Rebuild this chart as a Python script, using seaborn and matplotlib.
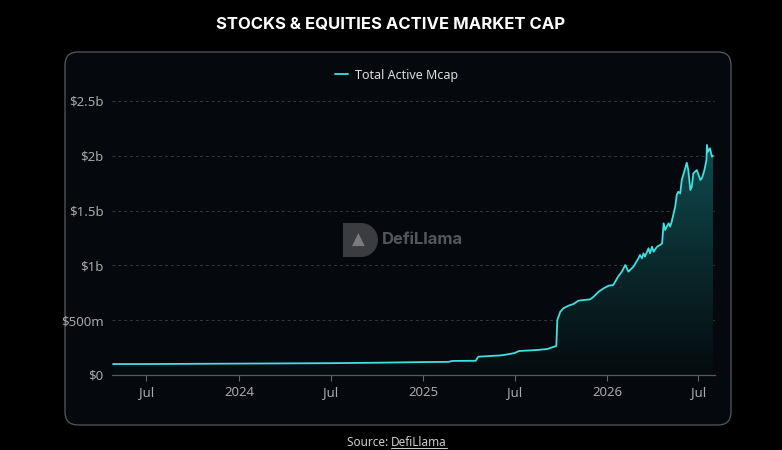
import numpy as np
import pandas as pd
import matplotlib
matplotlib.use("Agg")
import matplotlib.pyplot as plt
import matplotlib.dates as mdates
from matplotlib.patches import FancyBboxPatch, Circle, Rectangle
from matplotlib.transforms import IdentityTransform
from matplotlib.lines import Line2D
from matplotlib.colors import LinearSegmentedColormap
import seaborn as sns

# data (value in $ millions)
dates = ['2023-04-26', '2023-07-01', '2023-10-01', '2024-01-01', '2024-07-01', '2024-10-01',
         '2025-01-01', '2025-02-20', '2025-02-27', '2025-04-15', '2025-04-20', '2025-06-01',
         '2025-06-09', '2025-07-01', '2025-07-10', '2025-08-15', '2025-09-04', '2025-09-22',
         '2025-09-24', '2025-09-30', '2025-10-06', '2025-10-16', '2025-10-26', '2025-11-05',
         '2025-11-15', '2025-11-28', '2025-12-05', '2025-12-15', '2025-12-25', '2026-01-04',
         '2026-01-13', '2026-01-23', '2026-01-30', '2026-02-06', '2026-02-12', '2026-02-22',
         '2026-03-04', '2026-03-07', '2026-03-11', '2026-03-14', '2026-03-17', '2026-03-24',
         '2026-03-27', '2026-03-31', '2026-04-03', '2026-04-10', '2026-04-16', '2026-04-20',
         '2026-04-23', '2026-04-26', '2026-04-29', '2026-05-03', '2026-05-06', '2026-05-09',
         '2026-05-16', '2026-05-19', '2026-05-22', '2026-05-26', '2026-05-29', '2026-06-01',
         '2026-06-08', '2026-06-11', '2026-06-15', '2026-06-18', '2026-06-21', '2026-06-28',
         '2026-07-05', '2026-07-08', '2026-07-13', '2026-07-17', '2026-07-18', '2026-07-20',
         '2026-07-24', '2026-07-28', '2026-07-30']
mcap = [100, 100, 102, 104, 108, 112,
        118, 120, 128, 130, 167, 178,
        182, 200, 219, 228, 237, 265,
        502, 578, 608, 632, 648, 678,
        684, 690, 714, 760, 791, 815,
        821, 900, 943, 1004, 943, 988,
        1065, 1095, 1065, 1110, 1080, 1156,
        1110, 1171, 1125, 1171, 1186, 1201,
        1384, 1323, 1353, 1384, 1353, 1399,
        1535, 1642, 1672, 1657, 1779, 1825,
        1937, 1870, 1688, 1718, 1840, 1870,
        1779, 1795, 1870, 1962, 2099, 2037,
        2068, 1992, 2000]

ytick_vals = [0, 500, 1000, 1500, 2000, 2500]
ytick_labels = ['$0', '$500m', '$1b', '$1.5b', '$2b', '$2.5b']
xtick_dates = ['2023-07-01', '2024-01-01', '2024-07-01', '2025-01-01', '2025-07-01', '2026-01-01', '2026-07-01']
xtick_labels = ['Jul', '2024', 'Jul', '2025', 'Jul', '2026', 'Jul']

df = pd.DataFrame({'date': pd.to_datetime(dates), 'mcap': np.array(mcap) * 1e6})

sns.set_theme(style="dark")
plt.rcParams['font.family'] = ['Noto Sans', 'DejaVu Sans']

line_col = '#3fe0e0'
grey = '#a9a9a9'

W, H = 782, 450
fig = plt.figure(figsize=(W / 100, H / 100), dpi=100)
fig.patch.set_facecolor('black')

# rounded panel behind everything
panel = FancyBboxPatch((65, H - 425), 666, 373, boxstyle="round,pad=0,rounding_size=13",
                       transform=IdentityTransform(), facecolor='#05080c', edgecolor='#55585c',
                       linewidth=0.9, zorder=-2)
fig.patches.append(panel)

# watermark
fig.patches.append(Circle((361, H - 240), 17, transform=IdentityTransform(), facecolor='#3b3c3f',
                          edgecolor='none', zorder=-1))
fig.patches.append(Rectangle((343, H - 257), 18, 34, transform=IdentityTransform(), facecolor='#3b3c3f',
                             edgecolor='none', zorder=-1))
fig.text(358 / W, (H - 241) / H, '\u25b2', color='#7a7b7e', fontsize=12, ha='center', va='center', zorder=-1)
fig.text(382 / W, (H - 240) / H, 'DefiLlama', color='#55565a', fontsize=12, fontweight='bold',
         ha='left', va='center', family=['Inter', 'DejaVu Sans'], zorder=-1)

ax = fig.add_axes([112 / W, (H - 375) / H, (715 - 112) / W, (375 - 101) / H])
ax.set_facecolor('none')
ax.set_zorder(1)

sns.lineplot(data=df, x='date', y='mcap', ax=ax, color=line_col, linewidth=1.3,
             label='Total Active Mcap', zorder=3)

# gradient fill under the line
x0 = mdates.date2num(pd.Timestamp('2023-04-24'))
x1 = mdates.date2num(pd.Timestamp('2026-08-03'))
poly = ax.fill_between(df['date'], df['mcap'], 0, color='none', linewidth=0)
grad = np.linspace(0, 1, 256).reshape(-1, 1)
cmap = LinearSegmentedColormap.from_list('g', ['#050b0e', '#0a2a2d', '#104c4f'])
im = ax.imshow(grad, extent=[x0, x1, 0, 2.1e9], origin='lower', aspect='auto', cmap=cmap, zorder=1)
im.set_clip_path(poly.get_paths()[0], transform=ax.transData)

ax.set_xlim(x0, x1)
ax.set_ylim(0, 2.5e9)
ax.set_yticks([v * 1e6 for v in ytick_vals])
ax.set_yticklabels(ytick_labels)
ax.set_xticks(pd.to_datetime(xtick_dates))
ax.set_xticklabels(xtick_labels)
for lab in ax.get_xticklabels():
    if lab.get_text() != 'Jul':
        lab.set_fontweight('bold')
ax.tick_params(axis='y', length=0, labelsize=9.5, labelcolor=grey, pad=6)
ax.tick_params(axis='x', length=4, width=0.8, color='#666', labelsize=9.5, labelcolor=grey, pad=4, bottom=True)
ax.set_xlabel('')
ax.set_ylabel('')
ax.grid(False)
for v in ytick_vals[1:]:
    ax.axhline(v * 1e6, color='#34373c', lw=0.7, ls=(0, (3, 3)), zorder=0)
for s in ['top', 'right', 'left']:
    ax.spines[s].set_visible(False)
ax.spines['bottom'].set_color('#55585c')
ax.spines['bottom'].set_linewidth(0.9)

leg = ax.legend(loc='center', bbox_to_anchor=(397 / W, (H - 75) / H), bbox_transform=fig.transFigure,
                frameon=False, fontsize=9, handlelength=1.0, handletextpad=0.6, labelcolor='#dddddd')

fig.text(W / 2 / W, (H - 25) / H, 'STOCKS & EQUITIES ACTIVE MARKET CAP', color='white',
         fontsize=12, fontweight='bold', ha='center', va='center', family=['Inter', 'DejaVu Sans'])

t1 = fig.text(391 / W, (H - 442) / H, 'Source: ', color='#cccccc', fontsize=8.5, ha='right', va='center')
t2 = fig.text(391 / W, (H - 442) / H, 'DefiLlama', color='#cccccc', fontsize=8.5, ha='left', va='center')
fig.canvas.draw()
bb = t2.get_window_extent()
fig.lines.append(Line2D([bb.x0, bb.x1], [bb.y0 + 1, bb.y0 + 1], transform=IdentityTransform(),
                        color='#cccccc', lw=0.7))

fig.savefig('out.png', dpi=100, facecolor=fig.get_facecolor())
